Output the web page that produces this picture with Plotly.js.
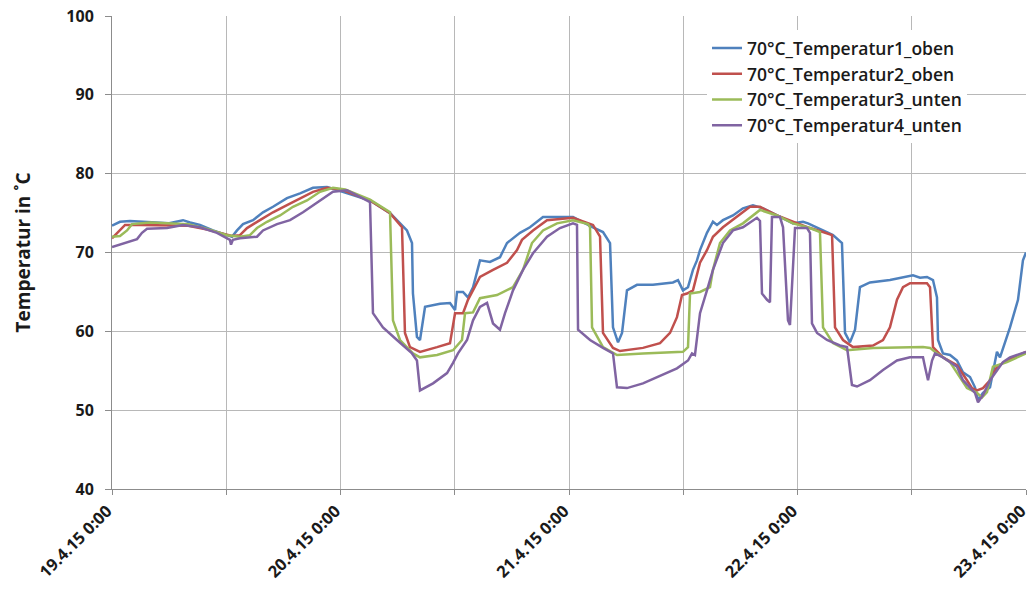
<!DOCTYPE html>
<html>
<head>
<meta charset="utf-8">
<script src="https://cdn.plot.ly/plotly-3.0.1.min.js"></script>
<style>html,body{margin:0;padding:0;background:#fff;}#chart{width:1031px;height:590px;}</style>
</head>
<body>
<div id="chart"></div>
<script>
// Time in hours since 19.4.15 0:00
const seriesNames = ["70°C_Temperatur1_oben", "70°C_Temperatur2_oben", "70°C_Temperatur3_unten", "70°C_Temperatur4_unten"];
const xTickHours = [0, 12, 24, 36, 48, 60, 72, 84, 96];
const xTickLabels = ["19.4.15 0:00", "", "20.4.15 0:00", "", "21.4.15 0:00", "", "22.4.15 0:00", "", "23.4.15 0:00"];
const yTickValues = [40, 50, 60, 70, 80, 90, 100];

const t1Hours = [0,0.84,1.89,4,6,7.46,8.2,9.24,10.61,12.08,12.6,13.13,13.76,14.81,15.86,16.91,18.38,19.75,21.11,22.58,23.74,
  27.1,29.2,30.98,31.51,31.61,32.03,32.35,32.88,34.45,35.5,36.03,36.24,36.87,37.39,37.92,38.65,39.7,40.75,41.49,42.85,43.9,45.27,47.05,48.42,
  50.52,51.57,52.31,52.62,53.15,53.57,54.09,55.14,56.82,58.92,59.45,59.97,60.5,61.02,61.44,61.76,62.49,63.12,63.54,64.17,65.22,66.27,67.32,68.38,69.85,71.53,
  72.58,73.1,74.68,75.73,76.67,76.99,77.51,78.04,78.56,79.61,81.71,83.5,84.13,84.87,85.6,86.23,86.65,86.76,87.28,88.02,88.75,89.38,90.12,90.64,90.96,91.48,92.22,92.95,93.27,94.32,95.16,95.68,96];
const t1Values = [73.4,73.9,74.0,73.8,73.7,74.1,73.8,73.5,72.8,72.2,72.0,72.8,73.6,74.1,75.1,75.8,76.9,77.5,78.2,78.3,77.9,
  76.6,75.0,72.8,71.2,64.8,59.3,58.9,63.1,63.5,63.6,62.7,65.0,65.0,64.3,65.6,69.0,68.8,69.4,71.2,72.5,73.2,74.5,74.5,74.5,
  73.2,72.6,71.2,60.5,58.6,59.8,65.2,65.9,65.9,66.2,66.5,65.2,65.6,67.8,69.0,70.3,72.5,73.9,73.5,74.1,74.7,75.6,76.0,75.6,74.7,73.7,
  73.9,73.7,72.8,72.2,71.2,59.8,58.6,60.2,65.6,66.2,66.5,66.9,67.1,66.8,66.9,66.5,64.3,58.9,57.2,57.0,56.3,54.8,54.2,52.9,51.3,52.2,52.9,57.4,56.7,60.5,64.0,69.0,70.0];

const t2Hours = [0,0.84,1.37,3,5.78,8,10,12.6,13.44,14.18,15.54,16.91,18.38,19.75,21.11,22.58,24,27.1,29.2,30.46,30.77,31.3,32.35,34.14,35.5,36.03,36.87,37.39,38.65,40.02,41.49,42.54,43.06,44.22,45.69,48.42,
  50.52,51.26,51.57,52.62,53.36,55.77,57.56,58.61,59.34,59.87,60.39,61.02,61.76,62.49,63.12,64.17,65.64,67.01,68.06,69.85,71.53,
  73.31,74.68,75.63,75.94,76.78,77.83,79.93,80.98,81.71,82.45,83.08,83.82,85.6,85.92,86.13,86.23,87.28,88.75,89.8,90.33,90.85,91.48,92.22,92.95,94.0,96];
const t2Values = [71.8,72.8,73.5,73.5,73.4,73.4,72.9,72.1,72.2,73.1,74.1,75.1,76.0,76.9,77.7,78.2,78.0,76.6,75.0,73.2,59.8,58.0,57.4,58.0,58.5,62.3,62.3,64.0,66.9,67.8,68.7,70.3,71.6,72.8,74.1,74.4,
  73.5,72.0,59.8,57.9,57.5,57.9,58.5,59.8,61.8,64.6,64.8,65.2,68.7,70.3,72.0,73.2,74.5,75.8,75.8,74.7,73.9,
  73.1,72.6,72.2,60.5,58.9,58.0,58.2,58.9,60.5,64.0,65.6,66.1,66.1,65.6,61.4,58.0,56.7,55.7,53.8,52.8,52.5,52.8,53.8,55.5,56.3,57.4];

const t3Hours = [0,0.84,1.58,2.1,4,6,8,10,12.08,13.44,14.49,15.23,16.28,17.65,19.01,20.48,21.85,23.21,24.5,27.1,29.2,29.51,30.25,31.61,32.35,34.14,35.82,36.76,37.08,37.92,38.65,40.44,42.12,43.17,44.11,45.27,46.74,48.42,50.0,
  50.21,50.42,51.57,53.04,55.77,59.97,60.5,60.71,61.76,62.81,63.12,63.86,64.91,66.27,68.06,69.85,71.53,73.31,74.36,
  74.68,75.73,77.2,79.93,85.18,85.92,86.65,88.02,89.07,89.8,90.85,91.38,91.9,92.53,94.0,96];
const t3Values = [72.0,72.1,72.8,73.6,73.8,73.7,73.6,73.0,72.2,72.0,72.2,73.1,73.9,74.7,75.8,76.6,77.7,78.2,78.0,76.7,75.1,61.4,58.9,57.2,56.7,57.0,57.6,58.9,62.3,62.4,64.2,64.6,65.6,67.8,71.2,72.8,73.7,74.1,73.6,
  73.2,60.5,58.0,57.0,57.2,57.4,58.0,64.8,65.0,65.6,67.8,71.2,72.8,73.7,75.4,74.7,73.7,73.1,72.6,
  60.5,58.5,57.6,57.9,58.0,57.9,57.2,56.1,54.2,52.8,52.2,51.6,52.3,55.5,56.1,57.2];

const t4Hours = [0,1.58,2.63,3.15,3.68,5.78,7.46,9.24,11.03,12.39,12.5,12.7,13.44,15.23,15.86,17.33,18.7,20.06,21.85,23.21,24.68,27.1,27.41,28.46,29.93,31.51,32.03,32.35,33.72,35.19,35.82,36.34,37.29,37.92,38.65,39.39,40.02,40.75,41.28,42.12,43.17,44.22,45.69,47.05,48.42,48.84,
  48.95,50.21,51.57,52.62,53.04,54.09,55.77,57.56,59.34,60.5,60.92,61.23,61.76,62.49,63.12,64.17,65.22,66.27,67.74,68.06,68.27,68.8,69.11,69.32,70.16,70.48,71.0,71.21,71.53,71.74,73.0,73.31,
  73.52,74.05,75.1,76.46,77.2,77.72,78.25,79.61,80.98,82.45,83.82,85.18,85.39,85.71,86.13,86.44,87.28,88.02,88.75,89.38,90.33,90.64,90.96,91.48,92.22,92.95,93.58,94.32,96];
const t4Values = [70.7,71.3,71.7,72.5,73.0,73.1,73.5,73.2,72.5,71.6,71.0,71.6,71.8,72.0,72.8,73.6,74.1,75.1,76.6,77.7,77.9,76.4,62.3,60.5,58.9,57.2,56.3,52.5,53.4,54.7,56.0,57.2,58.9,61.4,63.1,63.6,61.0,60.2,62.3,65.2,67.8,69.9,72.0,73.1,73.7,73.5,
  60.2,58.9,57.9,57.2,52.9,52.8,53.4,54.4,55.3,56.3,57.2,57.0,62.3,65.2,67.8,71.2,72.8,73.2,74.4,74.0,64.8,64.0,63.7,74.5,74.5,73.2,61.4,60.8,69.0,73.1,73.1,72.5,
  61.0,59.8,58.9,58.2,58.0,53.2,53.0,53.8,55.1,56.3,56.7,56.7,55.5,53.8,56.3,57.2,56.7,56.1,55.5,53.8,52.5,52.2,51.0,51.9,53.8,55.1,56.1,56.7,57.4];

const colors = ["#4F81BD", "#C0504D", "#9BBB59", "#8064A2"];
const allHours = [t1Hours, t2Hours, t3Hours, t4Hours];
const allValues = [t1Values, t2Values, t3Values, t4Values];

const traces = seriesNames.map((name, i) => ({
  type: "scatter",
  mode: "lines",
  name: name,
  legendgroup: "g" + i,
  x: allHours[i],
  y: allValues[i],
  line: {color: colors[i], width: 2.5}
}));

const fam = "Open Sans, Liberation Sans, sans-serif";

const layout = {
  width: 1031,
  height: 590,
  margin: {l: 112, r: 5, t: 16, b: 101},
  paper_bgcolor: "#ffffff",
  plot_bgcolor: "#ffffff",
  showlegend: true,
  legend: {
    x: 0.651, y: 0.97, xanchor: "left", yanchor: "top",
    bgcolor: "rgba(255,255,255,1)",
    font: {family: fam, size: 17.5, color: "#1a1a1a", weight: 600},
    tracegroupgap: 0,
    itemwidth: 30
  },
  xaxis: {
    range: [0, 96],
    tickmode: "array",
    tickvals: xTickHours,
    ticktext: xTickLabels,
    tickangle: -45,
    ticklabeloverflow: "allow",
    ticklabelshift: -5,
    tickfont: {family: fam, size: 16.5, color: "#1a1a1a", weight: 700},
    showgrid: true,
    gridcolor: "#b8b8b8",
    gridwidth: 1,
    showline: true,
    linecolor: "#8c8c8c",
    linewidth: 1,
    ticks: "outside",
    ticklen: 5,
    tickcolor: "#8c8c8c",
    zeroline: false,
    fixedrange: true
  },
  yaxis: {
    range: [40, 100],
    tickmode: "array",
    tickvals: yTickValues,
    tickfont: {family: fam, size: 16, color: "#1a1a1a", weight: 700},
    ticklabelstandoff: 8,
    showgrid: true,
    gridcolor: "#b8b8b8",
    gridwidth: 1,
    showline: true,
    linecolor: "#8c8c8c",
    linewidth: 1,
    ticks: "outside",
    ticklen: 6,
    tickcolor: "#8c8c8c",
    zeroline: false,
    title: {text: "Temperatur in ˚C", font: {family: fam, size: 19, color: "#1a1a1a", weight: 700}, standoff: 30},
    fixedrange: true
  }
};

Plotly.newPlot("chart", traces, layout, {displayModeBar: false, staticPlot: true});
</script>
</body>
</html>
